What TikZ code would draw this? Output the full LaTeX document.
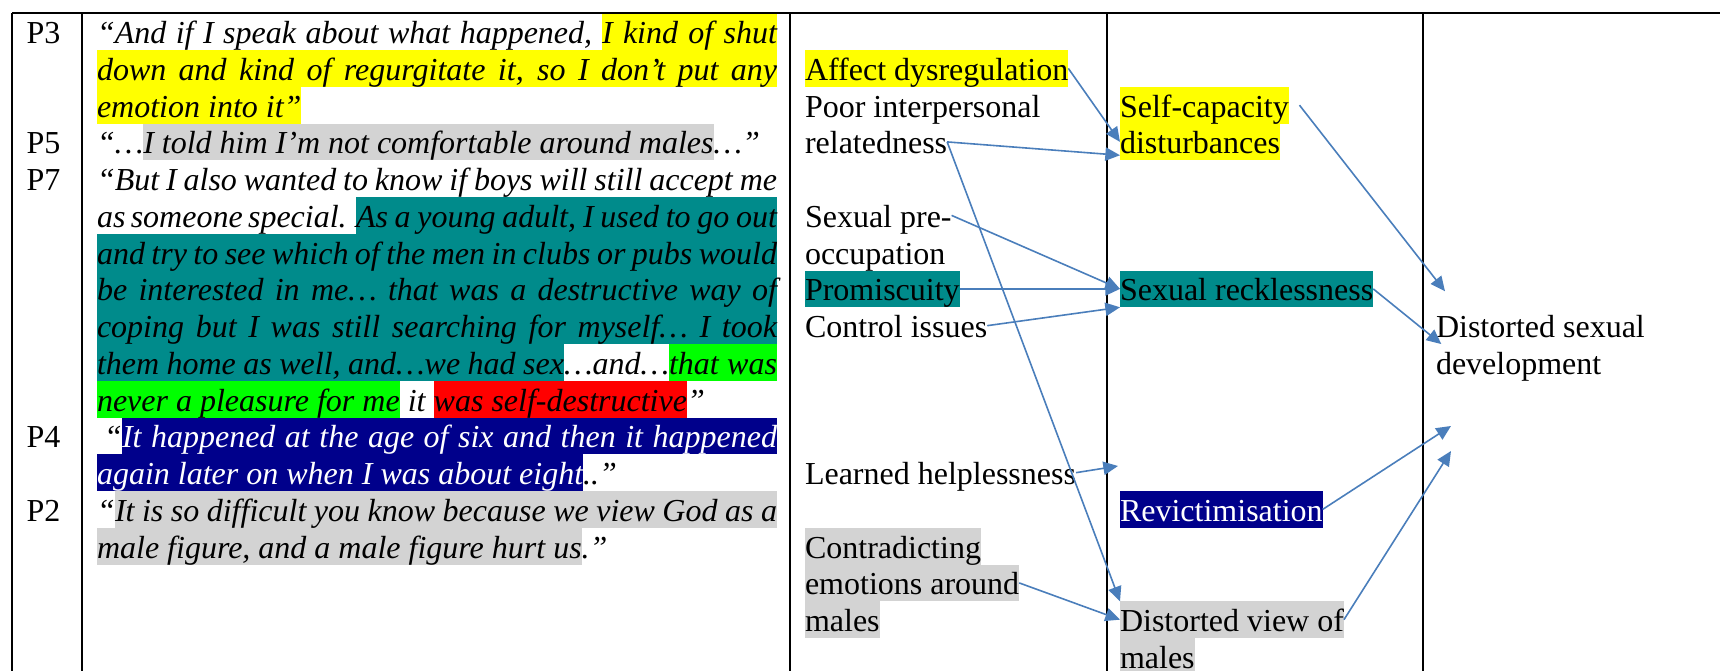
\documentclass[tikz,border=0pt]{standalone}
\usepackage{fontspec}
\setmainfont{Liberation Serif}
\usepackage[dvipsnames]{xcolor}
\usepackage{tikz}
\usetikzlibrary{positioning}
\usetikzlibrary{arrows.meta}
\definecolor{hlyellow}{HTML}{FFFF00}
\definecolor{hlteal}{HTML}{008B8B}
\definecolor{hlgreen}{HTML}{00FF00}
\definecolor{hlred}{HTML}{FF0000}
\definecolor{hlnavy}{HTML}{00008B}
\definecolor{hlgray}{HTML}{D3D3D3}
\definecolor{linkblue}{HTML}{4A7EBB}
\newcommand{\cellfont}{\fontsize{12pt}{13.78pt}\selectfont}
\tikzset{
    cell/.style={anchor=north west, inner sep=0pt, outer sep=0pt,
        text height=11.4pt, text depth=2.38pt, font=\cellfont},
    quote/.style={cell, font=\cellfont\itshape},
    link/.style={draw=linkblue, line width=0.6pt, -{Triangle[length=5.5pt, width=5pt]}},
    rule/.style={line width=0.7pt}}

\begin{document}
\begin{tikzpicture}[x=0.375pt, y=-0.375pt]
            \useasboundingbox (0,0) rectangle (1720,671);

                    \node[cell] (p3) at (26.7,13.3) {P3};
                    \node[cell] (p5) at (26.7,123.55) {P5};
                    \node[cell] (p7) at (26.7,160.3) {P7};
                    \node[cell] (p4) at (26.7,417.55) {P4};
                    \node[cell] (p2) at (26.7,491.05) {P2};

                    \node[quote] (q1a) at (97,13.3) {\makebox[189.375pt][s]{“And if I speak about what happened, }};
                    \node[quote, fill=hlyellow] (q1b) at (602,13.3) {\makebox[65.625pt][s]{I kind of shut}};
                    \node[quote, fill=hlyellow] (q2) at (97,50.05) {\makebox[255pt][s]{down and kind of regurgitate it, so I don’t put any}};
                    \node[quote, fill=hlyellow] (q3) at (97,86.8) {emotion into it”};
                    \node[quote] (q4a) at (97,123.55) {“…};
                    \node[quote, fill=hlgray, right=0pt of q4a] (q4b) {I told him I’m not comfortable around males};
                    \node[quote, right=0pt of q4b] (q4c) {…”};
                    \node[quote] (q5) at (97,160.3) {\makebox[255pt][s]{“But I also wanted to know if boys will still accept me}};
                    \node[quote] (q6a) at (97,197.05) {\makebox[97.125pt][s]{as someone special. }};
                    \node[quote, fill=hlteal] (q6b) at (356,197.05) {\makebox[157.875pt][s]{As a young adult, I used to go out}};
                    \node[quote, fill=hlteal] (q7) at (97,233.8) {\makebox[255pt][s]{and try to see which of the men in clubs or pubs would}};
                    \node[quote, fill=hlteal] (q8) at (97,270.55) {\makebox[255pt][s]{be interested in me… that was a destructive way of}};
                    \node[quote, fill=hlteal] (q9) at (97,307.3) {\makebox[255pt][s]{coping but I was still searching for myself… I took}};
                    \node[quote, fill=hlteal] (q10a) at (97,344.05) {\makebox[175.125pt][s]{them home as well, and…we had sex}};
                    \node[quote] (q10b) at (564,344.05) {\makebox[39.375pt][c]{…and…}};
                    \node[quote, fill=hlgreen] (q10c) at (669,344.05) {\makebox[40.5pt][s]{that was}};
                    \node[quote, fill=hlgreen] (q11a) at (97,380.8) {never a pleasure for me};
                    \node[quote, right=0pt of q11a] (q11b) {\makebox[12.75pt][c]{it}};
                    \node[quote, fill=hlred, right=0pt of q11b] (q11c) {was self-destructive};
                    \node[quote, right=0pt of q11c] (q11d) {”};
                    \node[quote] (q12a) at (97,417.55) {\makebox[9.375pt][r]{“}};
                    \node[quote, fill=hlnavy, text=white] (q12b) at (122,417.55) {\makebox[245.625pt][s]{It happened at the age of six and then it happened}};
                    \node[quote, fill=hlnavy, text=white] (q13a) at (97,454.3) {again later on when I was about eight};
                    \node[quote, right=0pt of q13a] (q13b) {..”};
                    \node[quote] (q14a) at (97,491.05) {“};
                    \node[quote, fill=hlgray] (q14b) at (115,491.05) {\makebox[248.25pt][s]{It is so difficult you know because we view God as a}};
                    \node[quote, fill=hlgray] (q15a) at (97,527.8) {male figure, and a male figure hurt us};
                    \node[quote, right=0pt of q15a] (q15b) {.”};

                    \node[cell, fill=hlyellow] (affect) at (805,50.05) {Affect dysregulation};
                    \node[cell] (poor) at (805,86.8) {Poor interpersonal};
                    \node[cell] (related) at (805,123.55) {relatedness};
                    \node[cell] (pre) at (805,197.05) {Sexual pre-};
                    \node[cell] (occup) at (805,233.8) {occupation};
                    \node[cell, fill=hlteal] (promis) at (805,270.55) {Promiscuity};
                    \node[cell] (control) at (805,307.3) {Control issues};
                    \node[cell] (helpless) at (805,454.3) {Learned helplessness};
                    \node[cell, fill=hlgray] (contra1) at (805,527.8) {Contradicting};
                    \node[cell, fill=hlgray] (contra2) at (805,564.55) {emotions around};
                    \node[cell, fill=hlgray] (contra3) at (805,601.3) {males};

                    \node[cell, fill=hlyellow] (selfcap1) at (1120,86.8) {Self-capacity};
                    \node[cell, fill=hlyellow] (selfcap2) at (1120,123.55) {disturbances};
                    \node[cell, fill=hlteal] (reckless) at (1120,270.55) {Sexual recklessness};
                    \node[cell, fill=hlnavy, text=white] (revict) at (1120,491.05) {Revictimisation};
                    \node[cell, fill=hlgray] (view1) at (1120,601.3) {Distorted view of};
                    \node[cell, fill=hlgray] (view2) at (1120,638.05) {males};

                    \node[cell] (distort1) at (1436,307.3) {Distorted sexual};
                    \node[cell] (distort2) at (1436,344.05) {development};

                    \coordinate (helpend) at (1118,466);
                    \coordinate (upper) at (1451,426);
                    \coordinate (lower) at (1451,451);

                    \draw[rule] (12.3,13.3) -- (1720,13.3);
                    \draw[rule] (12.3,13.3) -- (12.3,671);
                    \draw[rule] (82.3,13.3) -- (82.3,671);
                    \draw[rule] (790,13.3) -- (790,671);
                    \draw[rule] (1107,13.3) -- (1107,671);
                    \draw[rule] (1423,13.3) -- (1423,671);

                    \draw[link] (affect.east) -- (selfcap2.west);
                    \draw[link] (related.east) -- ([yshift=-5pt]selfcap2.west);
                    \draw[link] (related.east) -- (view1.north west);
                    \draw[link] (pre.east) -- (reckless.west);
                    \draw[link] (promis.east) -- (reckless.west);
                    \draw[link] (control.east) -- (reckless.south west);
                    \draw[link] ([xshift=4pt]selfcap1.east) -- ([shift={(9,-16)}]distort1.north west);
                    \draw[link] (reckless.east) -- ([xshift=2pt]distort2.north west);
                    \draw[link] (helpless.east) -- (helpend);
                    \draw[link] (revict.east) -- (upper);
                    \draw[link] (contra2.east) -- (view1.west);
                    \draw[link] (view1.east) -- (lower);

                \end{tikzpicture}
\end{document}
